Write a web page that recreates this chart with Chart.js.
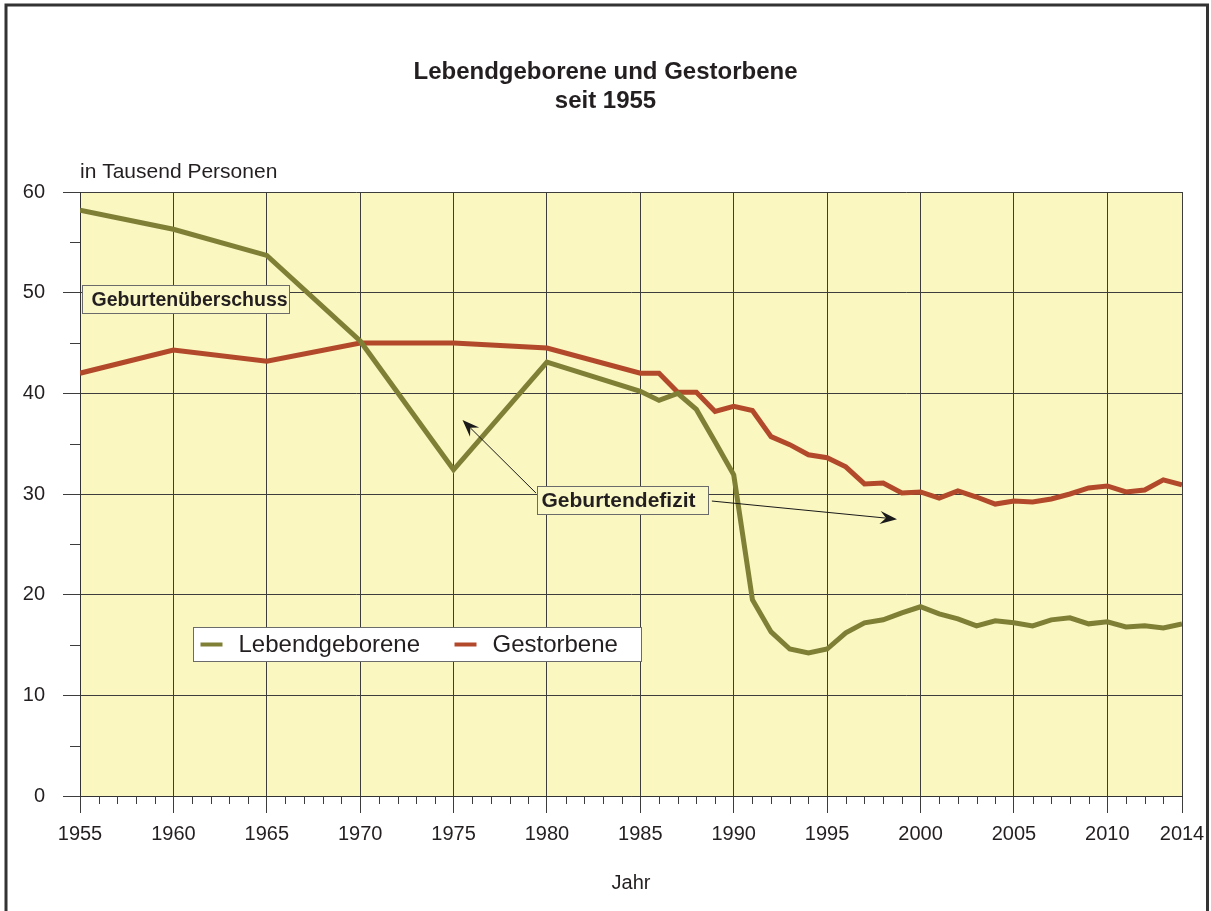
<!DOCTYPE html>
<html lang="de">
<head>
<meta charset="utf-8">
<title>Lebendgeborene und Gestorbene seit 1955</title>
<script src="https://cdn.jsdelivr.net/npm/chart.js@4.4.1/dist/chart.umd.min.js"></script>
<style>
html, body {
    margin: 0;
    padding: 0;
    background: #ffffff;
    overflow: hidden;
}

#wrap {
    position: relative;
    width: 1211px;
    height: 911px;
}
</style>
</head>
<body>

<div id="wrap">
    <canvas id="birthChart"></canvas>
</div>

<script>
// ================================
// DATA
// ================================

const years = [
    1955, 1960, 1965, 1970, 1975, 1980,
    1985, 1986, 1987, 1988, 1989, 1990, 1991, 1992, 1993, 1994,
    1995, 1996, 1997, 1998, 1999, 2000, 2001, 2002, 2003, 2004,
    2005, 2006, 2007, 2008, 2009, 2010, 2011, 2012, 2013, 2014
];

const lebendgeborene = [
    58.2, 56.3, 53.7, 45.2, 32.4, 43.1,
    40.2, 39.3, 40.0, 38.4, 35.2, 31.9, 19.5, 16.3, 14.6, 14.2,
    14.6, 16.2, 17.2, 17.5, 18.2, 18.8, 18.1, 17.6, 16.9, 17.4,
    17.2, 16.9, 17.5, 17.7, 17.1, 17.3, 16.8, 16.9, 16.7, 17.1
];

const gestorbene = [
    42.0, 44.3, 43.2, 45.0, 45.0, 44.5,
    42.0, 42.0, 40.1, 40.1, 38.2, 38.7, 38.3, 35.7, 34.9, 33.9,
    33.6, 32.7, 31.0, 31.1, 30.1, 30.2, 29.6, 30.3, 29.7, 29.0,
    29.3, 29.2, 29.5, 30.0, 30.6, 30.8, 30.2, 30.4, 31.4, 30.9
];

const xTickYears = [1955, 1960, 1965, 1970, 1975, 1980, 1985, 1990, 1995, 2000, 2005, 2010, 2014];

const yTickValues = [0, 10, 20, 30, 40, 50, 60];

// ================================
// STYLE + ANNOTATION SETUP
// ================================

const fontFamily = "'Liberation Sans', Arial, Helvetica, sans-serif";
const textColor = "#231f20";
const gridColor = "#3d3d3d";
const plotFill = "#faf7c0";
const greenColor = "#7f7f36";
const redColor = "#b2492a";

// anchors in data units (year / Tausend), sizes in px
const noteBoxes = [
    { text: "Geburtenüberschuss", x: 1955.1, y: 50.74, w: 207, h: 28, size: 19.5, pad: 9 },
    { text: "Geburtendefizit", x: 1979.46, y: 30.78, w: 171, h: 28, size: 21, pad: 4 }
];

const noteArrows = [
    { fromX: 1979.41, fromY: 30.1, toX: 1975.48, toY: 37.34 },
    { fromX: 1988.83, fromY: 29.3, toX: 1998.74, toY: 27.5 }
];

const legendAnchor = { x: 1961.05, y: 16.78, w: 448, h: 34 };

function toPoints(values) {
    return years.map((year, i) => ({ x: year, y: values[i] }));
}

// ================================
// PLUGINS
// ================================

const plotBackground = {
    id: "plotBackground",
    beforeDraw(chart) {
        const { ctx, chartArea } = chart;
        ctx.save();
        ctx.fillStyle = plotFill;
        ctx.fillRect(chartArea.left, chartArea.top,
            chartArea.right - chartArea.left, chartArea.bottom - chartArea.top);
        ctx.restore();
    }
};

function drawArrow(ctx, x1, y1, x2, y2) {
    const ang = Math.atan2(y2 - y1, x2 - x1);
    const len = 17;
    const half = 6.5;
    const notch = 11;

    ctx.beginPath();
    ctx.moveTo(x1, y1);
    ctx.lineTo(x2 - Math.cos(ang) * notch, y2 - Math.sin(ang) * notch);
    ctx.stroke();

    ctx.save();
    ctx.translate(x2, y2);
    ctx.rotate(ang);
    ctx.beginPath();
    ctx.moveTo(0, 0);
    ctx.lineTo(-len, -half);
    ctx.lineTo(-notch, 0);
    ctx.lineTo(-len, half);
    ctx.closePath();
    ctx.fill();
    ctx.restore();
}

const extras = {
    id: "extras",
    afterDraw(chart) {
        const { ctx, chartArea } = chart;
        const xs = chart.scales.x;
        const ys = chart.scales.y;

        ctx.save();

        // minor ticks
        ctx.strokeStyle = gridColor;
        ctx.lineWidth = 1;
        ctx.beginPath();
        for (let yr = 1956; yr < 2014; yr++) {
            if (yr % 5 === 0) continue;
            const px = Math.round(xs.getPixelForValue(yr)) + 0.5;
            ctx.moveTo(px, chartArea.bottom);
            ctx.lineTo(px, chartArea.bottom + 8);
        }
        for (let v = 5; v < 60; v += 10) {
            const py = Math.round(ys.getPixelForValue(v)) + 0.5;
            ctx.moveTo(chartArea.left - 10, py);
            ctx.lineTo(chartArea.left, py);
        }
        ctx.stroke();

        // unit label
        ctx.fillStyle = textColor;
        ctx.font = "21px " + fontFamily;
        ctx.textAlign = "left";
        ctx.textBaseline = "alphabetic";
        ctx.fillText("in Tausend Personen", chartArea.left, chartArea.top - 14);

        // arrows
        ctx.strokeStyle = "#1a1a1a";
        ctx.fillStyle = "#1a1a1a";
        ctx.lineWidth = 1;
        noteArrows.forEach(a => {
            drawArrow(ctx,
                xs.getPixelForValue(a.fromX), ys.getPixelForValue(a.fromY),
                xs.getPixelForValue(a.toX), ys.getPixelForValue(a.toY));
        });

        // note boxes
        noteBoxes.forEach(b => {
            const left = Math.round(xs.getPixelForValue(b.x)) + 0.5;
            const top = Math.round(ys.getPixelForValue(b.y)) + 0.5;
            ctx.fillStyle = "#fbf8c8";
            ctx.fillRect(left, top, b.w, b.h);
            ctx.strokeStyle = "#6b6b6b";
            ctx.strokeRect(left, top, b.w, b.h);
            ctx.fillStyle = textColor;
            ctx.font = "bold " + b.size + "px " + fontFamily;
            ctx.textBaseline = "middle";
            ctx.fillText(b.text, left + b.pad, top + b.h / 2 + 1);
        });

        // legend
        const lx = Math.round(xs.getPixelForValue(legendAnchor.x)) + 0.5;
        const ly = Math.round(ys.getPixelForValue(legendAnchor.y)) + 0.5;
        ctx.fillStyle = "#ffffff";
        ctx.fillRect(lx, ly, legendAnchor.w, legendAnchor.h);
        ctx.strokeStyle = "#6b6b6b";
        ctx.strokeRect(lx, ly, legendAnchor.w, legendAnchor.h);

        const itemOffsets = [7, 261];
        ctx.font = "24px " + fontFamily;
        ctx.textBaseline = "middle";
        chart.data.datasets.forEach((ds, i) => {
            const ix = lx + itemOffsets[i];
            const iy = ly + legendAnchor.h / 2;
            ctx.strokeStyle = ds.borderColor;
            ctx.lineWidth = 4;
            ctx.beginPath();
            ctx.moveTo(ix, iy);
            ctx.lineTo(ix + 22, iy);
            ctx.stroke();
            ctx.fillStyle = textColor;
            ctx.fillText(ds.label, ix + 38, iy + 1);
        });

        // outer frame
        ctx.strokeStyle = "#333333";
        ctx.lineWidth = 3;
        ctx.beginPath();
        ctx.moveTo(6, 911);
        ctx.lineTo(6, 5);
        ctx.lineTo(1207.5, 5);
        ctx.lineTo(1207.5, 911);
        ctx.stroke();

        ctx.restore();
    }
};

// ================================
// CHART
// ================================

const birthCtx = document.getElementById("birthChart");

new Chart(birthCtx, {
    type: "line",

    data: {
        datasets: [{
            label: "Lebendgeborene",
            data: toPoints(lebendgeborene),
            borderColor: greenColor,
            borderWidth: 5,
            pointRadius: 0,
            tension: 0,
            fill: false
        }, {
            label: "Gestorbene",
            data: toPoints(gestorbene),
            borderColor: redColor,
            borderWidth: 5,
            pointRadius: 0,
            tension: 0,
            fill: false
        }]
    },

    options: {
        responsive: true,
        maintainAspectRatio: false,
        animation: false,

        layout: {
            padding: { top: 0, right: 0, bottom: 0, left: 0 }
        },

        plugins: {
            legend: { display: false },
            tooltip: { enabled: false },
            title: {
                display: true,
                text: ["Lebendgeborene und Gestorbene", "seit 1955"],
                color: textColor,
                font: { family: fontFamily, size: 24, weight: "bold", lineHeight: 1.2 },
                padding: { top: 58, bottom: 76.4 }
            }
        },

        scales: {
            x: {
                type: "linear",
                min: 1955,
                max: 2014,
                afterBuildTicks(scale) {
                    scale.ticks = xTickYears.map(v => ({ value: v }));
                },
                afterFit(scale) {
                    scale.height = 115;
                    scale.paddingLeft = 0;
                    scale.paddingRight = 0;
                },
                ticks: {
                    autoSkip: false,
                    maxRotation: 0,
                    padding: 9,
                    color: textColor,
                    font: { family: fontFamily, size: 20 },
                    callback: value => String(value)
                },
                grid: {
                    color: gridColor,
                    lineWidth: 1,
                    tickLength: 17
                },
                border: { color: "#333333", width: 1 },
                title: {
                    display: true,
                    text: "Jahr",
                    color: textColor,
                    font: { family: fontFamily, size: 20 },
                    padding: { top: 0, bottom: 16 }
                }
            },

            y: {
                min: 0,
                max: 60,
                afterBuildTicks(scale) {
                    scale.ticks = yTickValues.map(v => ({ value: v }));
                },
                afterFit(scale) {
                    scale.width = 80;
                },
                ticks: {
                    padding: 18,
                    color: textColor,
                    font: { family: fontFamily, size: 20 }
                },
                grid: {
                    color: gridColor,
                    lineWidth: 1,
                    tickLength: 17
                },
                border: { color: "#333333", width: 1 }
            },

            yRight: {
                position: "right",
                display: true,
                grid: { display: false },
                border: { display: false },
                ticks: { display: false },
                afterFit(scale) {
                    scale.width = 29;
                }
            }
        }
    },

    plugins: [plotBackground, extras]
});
</script>

</body>
</html>
